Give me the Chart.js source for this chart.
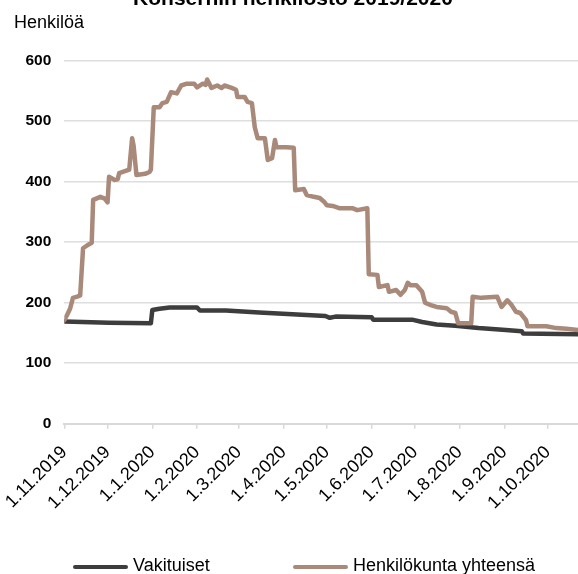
<!DOCTYPE html>
<html><head><meta charset="utf-8">
<script src="https://cdn.jsdelivr.net/npm/chart.js@4"></script>
<style>
html,body{margin:0;padding:0;background:#fff;}
#wrap{position:relative;width:578px;height:574px;overflow:hidden;background:#fff;}
#c{position:absolute;left:0;top:0;}
.txt{position:absolute;font-family:"Liberation Sans",Arial,sans-serif;color:#000;white-space:nowrap;line-height:1;}
.sw{position:absolute;height:4px;border-radius:2px;}
</style></head><body>
<div id="wrap">
<canvas id="c" width="578" height="574"></canvas>
<div class="txt" id="title" style="left:0;width:586px;text-align:center;top:-13px;font-size:21px;font-weight:bold;">Konsernin henkilöstö 2019/2020</div>
<div class="txt" style="left:14px;top:13px;font-size:18px;">Henkilöä</div>
<div class="sw" style="left:73px;top:565px;width:55px;background:#3d3d3d"></div>
<div class="txt" style="left:133px;top:556px;font-size:18px;">Vakituiset</div>
<div class="sw" style="left:293px;top:565px;width:55px;background:#a8897a"></div>
<div class="txt" style="left:353px;top:556px;font-size:18px;">Henkilökunta yhteensä</div>
</div>
<script>
// x values: days since 1.11.2019
const monthDays = [0,30,61,92,121,152,182,213,243,274,305,335];
const monthLabels = ['1.11.2019','1.12.2019','1.1.2020','1.2.2020','1.3.2020','1.4.2020','1.5.2020','1.6.2020','1.7.2020','1.8.2020','1.9.2020','1.10.2020'];

const permDays = [0,31,60,61,66,73,92,94,112,135,158,181,184,188,213,214,241,248,258,271,287,306,317,318,356];
const permValues = [169,167,166,188,190,192,192,187,187,184,181,178,175,177,176,172,172,168,164,162,158,155,153,149,148];

const totalDays = [0,2,4,6,9,11,13,16,19,20,25,28,30,31,35,37,38,44,45,47,48,50,56,59,60,62,66,68,71,74,78,81,85,90,92,96,98,99,102,106,109,111,116,119,120,125,127,130,132,134,139,141,144,146,147,154,159,160,166,168,173,177,180,182,186,191,200,203,210,211,217,218,224,225,230,233,236,238,240,244,248,250,254,258,265,268,271,273,282,283,289,300,303,307,310,313,316,320,321,334,341,348,356];
const totalValues = [171,180,190,208,210,212,290,295,299,370,375,372,366,408,403,404,414,419,420,472,460,411,413,416,420,523,523,530,532,548,546,559,562,562,556,562,560,569,555,559,555,559,555,552,540,540,532,530,490,472,472,436,439,469,457,457,456,386,388,378,375,373,367,361,360,356,356,353,356,247,246,226,229,218,221,213,221,233,229,229,218,200,196,193,191,185,183,166,166,210,208,210,193,204,196,185,183,171,161,161,158,157,155];

const seriesNames = ['Vakituiset','Henkilökunta yhteensä'];
const yTicks = [0,100,200,300,400,500,600];

const pts = (xs, ys) => xs.map((x,i)=>({x:x, y:ys[i]}));
const FONT = '"Liberation Sans", Arial, sans-serif';

new Chart(document.getElementById('c'), {
  type: 'line',
  data: {
    datasets: [
      {label: seriesNames[1], data: pts(totalDays,totalValues), borderColor:'#a8897a', borderWidth:4.5, pointRadius:0, tension:0, borderJoinStyle:'round', borderCapStyle:'round'},
      {label: seriesNames[0], data: pts(permDays,permValues), borderColor:'#3d3d3d', borderWidth:4.5, pointRadius:0, tension:0, borderJoinStyle:'round', borderCapStyle:'round'}
    ]
  },
  options: {
    responsive:false, animation:false, devicePixelRatio:1,
    layout:{padding:{top:60.7,left:0,right:0,bottom:0}},
    plugins:{legend:{display:false}, tooltip:{enabled:false}, title:{display:false}},
    scales:{
      x:{type:'linear', min:0, max:356,
        afterBuildTicks: s => { s.ticks = monthDays.map(v=>({value:v})); },
        afterFit: s => { s.height = 574-423.7; s.paddingLeft = 0; s.paddingRight = 0; },
        ticks:{autoSkip:false, minRotation:45, maxRotation:45, padding:13, color:'#000',
          font:{family:FONT, size:18},
          callback: v => monthLabels[monthDays.indexOf(v)]},
        grid:{drawOnChartArea:false, drawTicks:true, tickLength:5, color:'#d9d9d9', lineWidth:1.5},
        border:{display:true, color:'#d9d9d9', width:2}
      },
      y:{min:0, max:600,
        afterBuildTicks: s => { s.ticks = yTicks.map(v=>({value:v})); },
        afterFit: s => { s.width = 64.3; s.paddingTop = 0; s.paddingBottom = 0; },
        ticks:{padding:13, color:'#000', font:{family:FONT, size:15.5, weight:'bold'}},
        grid:{color:'#dedede', lineWidth:1.5, drawTicks:false},
        border:{display:false}
      }
    }
  }
});
</script>
</body></html>
